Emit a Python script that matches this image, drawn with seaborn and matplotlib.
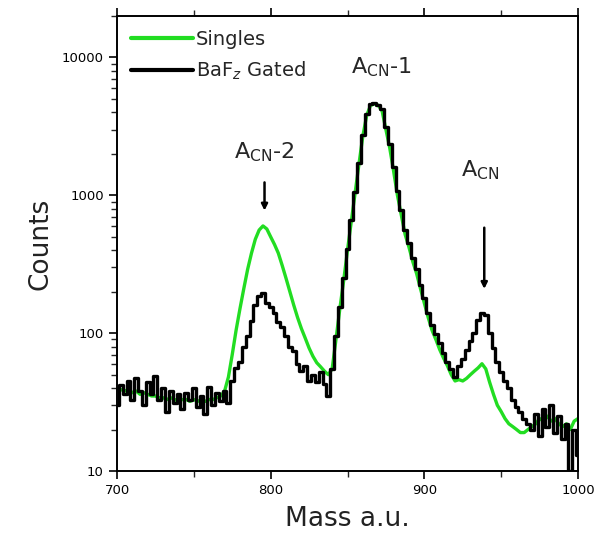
import numpy as np
import pandas as pd
import matplotlib
matplotlib.use("Agg")
import matplotlib.pyplot as plt
import seaborn as sns

mass = [700 + 2.5 * i for i in range(121)]

singles = [40, 39, 38, 39, 37, 38, 36, 37, 36, 35,
           35, 34, 34, 33, 34, 33, 32, 33, 33, 32,
           33, 32, 33, 32, 33, 33, 34, 35, 38, 48,
           70, 105, 150, 210, 290, 380, 480, 560, 600, 570,
           500, 440, 380, 310, 250, 200, 160, 130, 108, 92,
           78, 68, 61, 57, 53, 50, 55, 90, 150, 240,
           400, 650, 1050, 1700, 2700, 3800, 4500, 4600, 4500, 4100,
           3000, 2200, 1500, 1000, 720, 520, 420, 330, 270, 210,
           165, 130, 105, 90, 76, 66, 58, 50, 45, 46,
           45, 47, 50, 53, 56, 60, 55, 44, 36, 30,
           27, 24, 22, 21, 20, 19, 19, 20, 21, 22,
           24, 23, 25, 23, 24, 22, 21, 22, 20, 23, 24]

gated = [30, 42, 36, 45, 33, 47, 38, 30, 44, 36,
         49, 33, 40, 27, 38, 31, 36, 28, 37, 33,
         40, 29, 35, 26, 41, 30, 37, 32, 38, 31,
         45, 56, 62, 79, 95, 123, 160, 185, 194, 165,
         155, 140, 120, 110, 95, 80, 74, 60, 53, 58,
         45, 50, 44, 52, 43, 35, 55, 95, 155, 250,
         410, 660, 1060, 1720, 2750, 3900, 4600, 4650, 4550, 4200,
         3150, 2350, 1600, 1080, 780, 560, 450, 350, 290, 225,
         180, 140, 115, 98, 85, 72, 62, 55, 48, 58,
         65, 75, 88, 100, 125, 140, 135, 100, 78, 62,
         52, 45, 40, 33, 29, 27, 24, 22, 20, 26,
         18, 28, 21, 30, 19, 25, 17, 22, 10, 20, 13]

xticks = [700, 800, 900, 1000]
yticks = [10, 100, 1000, 10000]

df = pd.DataFrame({"mass": mass, "singles": singles, "gated": gated})

sns.set_style("ticks")
plt.rcParams["font.family"] = ["DejaVu Sans"]
plt.rcParams["mathtext.fontset"] = "dejavusans"

fig = plt.figure(figsize=(5.95, 5.39), dpi=100)
ax = fig.add_axes([117 / 595, 1 - 471 / 539, 461 / 595, 455 / 539])

sns.lineplot(data=df, x="mass", y="singles", ax=ax, color="#22dd22", lw=2.4,
             label="Singles")
sns.lineplot(data=df, x="mass", y="gated", ax=ax, color="black", lw=2.4,
             drawstyle="steps-mid", label="BaF$_z$ Gated")

ax.set_yscale("log")
ax.set_xlim(700, 1000)
ax.set_ylim(10, 20000)
ax.set_xticks(xticks)
ax.set_xticklabels([str(t) for t in xticks])
ax.set_xticks([750, 850, 950], minor=True)
ax.set_yticks(yticks)
ax.set_yticklabels([str(t) for t in yticks])
ax.yaxis.set_minor_locator(matplotlib.ticker.LogLocator(base=10, subs=np.arange(2, 10)))
ax.yaxis.set_minor_formatter(matplotlib.ticker.NullFormatter())

ax.tick_params(axis="both", which="major", labelsize=9.5, length=6, width=1.2,
               direction="out", colors="black")
ax.tick_params(axis="both", which="minor", length=4, width=1.0, direction="out")
ax.tick_params(axis="x", top=True, which="both")
ax.tick_params(axis="y", right=False, which="both")
for s in ax.spines.values():
    s.set_linewidth(1.4)
    s.set_color("black")

ax.set_xlabel("Mass a.u.", fontsize=19, color="#222222", labelpad=6)
ax.set_ylabel("Counts", fontsize=19, color="#222222", labelpad=6)

leg = ax.legend(loc="upper left", frameon=False, fontsize=14, handlelength=3.2,
                handletextpad=0.15, labelspacing=0.55, borderaxespad=0.3)
for ln in leg.get_lines():
    ln.set_linewidth(3)

ax.text(796, 2050, "A$_{\\mathregular{CN}}$-2", fontsize=16, ha="center", va="center")
ax.annotate("", xy=(796, 740), xytext=(796, 1300),
            arrowprops=dict(arrowstyle="-|>", lw=1.8, color="black", mutation_scale=9))
ax.text(872, 8500, "A$_{\\mathregular{CN}}$-1", fontsize=16, ha="center", va="center")
ax.text(936, 1520, "A$_{\\mathregular{CN}}$", fontsize=16, ha="center", va="center")
ax.annotate("", xy=(939, 200), xytext=(939, 610),
            arrowprops=dict(arrowstyle="-|>", lw=1.8, color="black", mutation_scale=9))

fig.savefig("out.png", dpi=100)
